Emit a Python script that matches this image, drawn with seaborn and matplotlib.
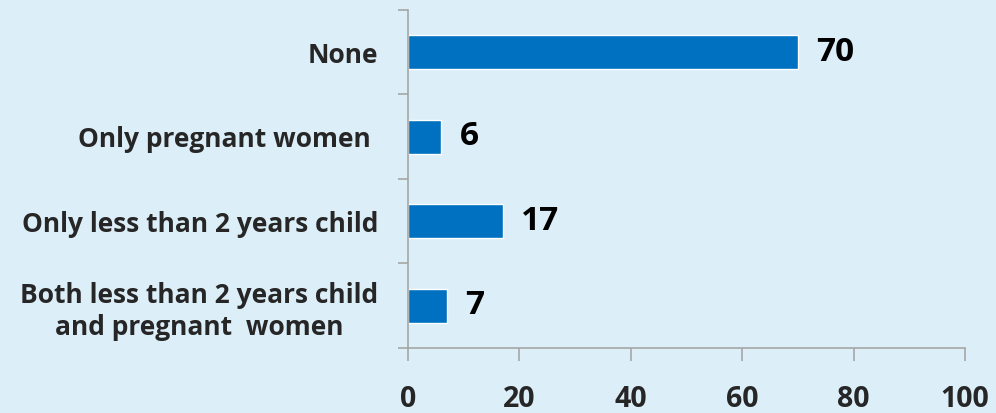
import matplotlib
matplotlib.use("Agg")
import matplotlib.pyplot as plt
import seaborn as sns
import pandas as pd

categories = [
    "None",
    "Only pregnant women ",
    "Only less than 2 years child",
    "Both less than 2 years child\nand pregnant  women",
]
values = [70, 6, 17, 7]
x_ticks = [0, 20, 40, 60, 80, 100]

BG = "#DCEEF8"
BAR = "#0070C0"
GRID = "#A6A6A6"

sns.set_theme(style="white")
plt.rcParams["font.family"] = ["Open Sans", "DejaVu Sans"]
plt.rcParams["font.weight"] = "bold"

df = pd.DataFrame({"category": categories, "value": values})

fig = plt.figure(figsize=(9.96, 4.13), dpi=100, facecolor=BG)
ax = fig.add_axes([0.4096, 0.1574, 0.5593, 0.8184])
ax.set_facecolor(BG)

sns.barplot(data=df, y="category", x="value", orient="h", color=BAR,
            width=0.4, saturation=1, ax=ax)

ax.set_xlim(0, 100)
ax.set_ylim(3.5, -0.5)
ax.set_xlabel("")
ax.set_ylabel("")

ax.set_xticks(x_ticks)
ax.set_xticklabels([str(t) for t in x_ticks], fontsize=20.5, fontweight="bold")
ax.tick_params(axis="x", length=9, width=1.2, color=GRID, pad=18, direction="out",
               bottom=True)

ax.set_yticks(range(len(categories)))
ax.set_yticklabels(categories, fontsize=19, fontweight="bold", linespacing=1.25,
                   multialignment="center")
ax.tick_params(axis="y", which="major", length=0, pad=21.5)
ax.set_yticks([i - 0.5 for i in range(len(categories) + 1)], minor=True)
ax.tick_params(axis="y", which="minor", length=7.5, width=1.2, color=GRID, left=True)

for side in ["top", "right"]:
    ax.spines[side].set_visible(False)
for side in ["left", "bottom"]:
    ax.spines[side].set_color(GRID)
    ax.spines[side].set_linewidth(1.2)

ax.bar_label(ax.containers[0], labels=[str(v) for v in values], padding=13,
             fontsize=24, fontweight="bold", color="black")

fig.savefig("out.png", dpi=100, facecolor=BG)
